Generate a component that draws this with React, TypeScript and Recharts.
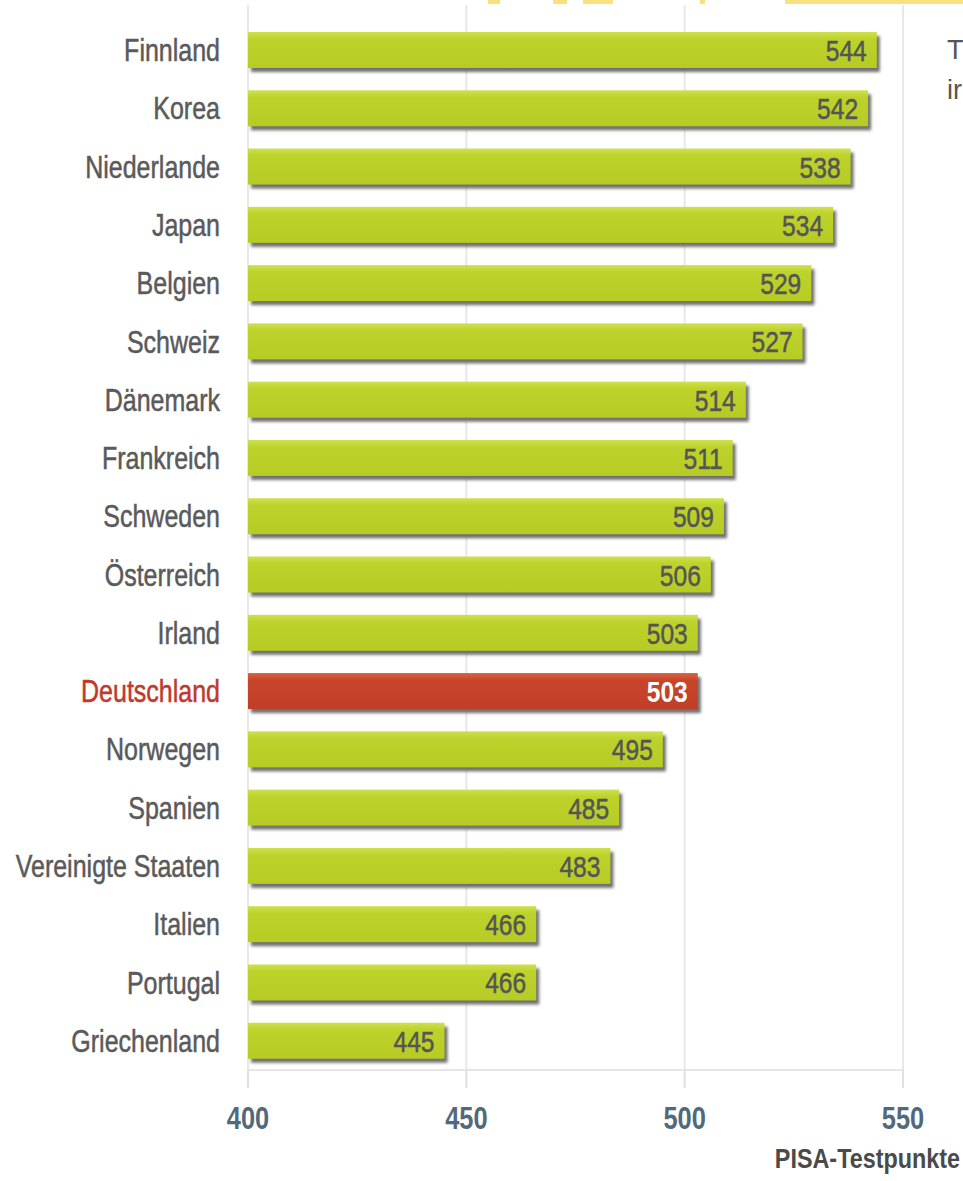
import { BarChart, Bar, XAxis, YAxis, CartesianGrid, Cell, LabelList } from 'recharts';

const countries = [
  'Finnland', 'Korea', 'Niederlande', 'Japan', 'Belgien', 'Schweiz', 'Dänemark', 'Frankreich',
  'Schweden', 'Österreich', 'Irland', 'Deutschland', 'Norwegen', 'Spanien', 'Vereinigte Staaten',
  'Italien', 'Portugal', 'Griechenland',
];
const scores = [544, 542, 538, 534, 529, 527, 514, 511, 509, 506, 503, 503, 495, 485, 483, 466, 466, 445];
const xTicks = [400, 450, 500, 550];
const highlight = 'Deutschland';
const axisTitle = 'PISA-Testpunkte';

const data = countries.map((name, i) => ({ name, score: scores[i] }));

const FONT = "'Liberation Sans', Arial, sans-serif";
const NARROW = 0.82;
const GREEN = '#bdd22a';
const RED = '#c8452b';

// condensed text: the reference uses a narrow grotesque, so squeeze Liberation Sans
function Narrow({ x, y, anchor, size, weight, fill, children, stroke }: any) {
  return (
    <text
      transform={`translate(${x} ${y}) scale(${NARROW} 1)`}
      x={0}
      y={0}
      textAnchor={anchor}
      fontFamily={FONT}
      fontSize={size}
      fontWeight={weight}
      fill={fill}
      stroke={stroke ? fill : undefined}
      strokeWidth={stroke ? 0.5 : undefined}
    >
      {children}
    </text>
  );
}

function ShadowBar(props: any) {
  const { x, y, width, height, payload } = props;
  const hot = payload.name === highlight;
  return (
    <g>
      <rect x={x + 3} y={y + 4} width={width} height={height} fill="#6f6f6f" filter="url(#barShadow)" />
      <rect x={x} y={y} width={width} height={height} fill={hot ? 'url(#redFill)' : 'url(#greenFill)'} />
    </g>
  );
}

function ValueLabel(props: any) {
  const { x, y, width, height, value, index } = props;
  const hot = countries[index] === highlight;
  return (
    <Narrow
      x={x + width - 10}
      y={y + height / 2 + 11}
      anchor="end"
      size={30}
      weight={hot ? 700 : 400}
      fill={hot ? '#ffffff' : '#555555'}
      stroke={!hot}
    >
      {value}
    </Narrow>
  );
}

function CountryTick(props: any) {
  const { x, y, payload } = props;
  const hot = payload.value === highlight;
  return (
    <Narrow x={x} y={y + 11} anchor="end" size={30.5} weight={400} fill={hot ? '#c0392b' : '#5a5a5a'} stroke>
      {payload.value}
    </Narrow>
  );
}

function ScoreTick(props: any) {
  const { x, y, payload } = props;
  return (
    <Narrow x={x} y={y + 37} anchor="middle" size={31} weight={700} fill="#52697a">
      {payload.value}
    </Narrow>
  );
}

function AxisTitle(props: any) {
  const { viewBox } = props;
  return (
    <Narrow x={viewBox.x + viewBox.width + 57} y={viewBox.y + 98} anchor="end" size={28.5} weight={700} fill="#4a4a4a">
      {axisTitle}
    </Narrow>
  );
}

function GridLine(props: any) {
  const { x1, x2, y1, y2 } = props;
  return <line x1={x1} x2={x2} y1={y1 - 16} y2={y2} stroke="#e8e8e8" strokeWidth={2} />;
}

const yellowBits = [
  { left: 488, width: 12 }, { left: 553, width: 14 }, { left: 583, width: 30 },
  { left: 700, width: 5 }, { left: 785, width: 178 },
];

export default function App() {
  return (
    <div
      style={{
        position: 'absolute', left: 0, top: 0, width: 963, height: 1181,
        overflow: 'hidden', background: '#ffffff',
      }}
    >
      {yellowBits.map((b, i) => (
        <div
          key={i}
          style={{
            position: 'absolute', top: 0, left: b.left, width: b.width, height: 4,
            background: '#fad95c', opacity: 0.8,
          }}
        />
      ))}
      <div style={{ position: 'absolute', left: 947, top: 30, fontFamily: "'Liberation Sans', sans-serif", fontSize: 27, color: '#555', lineHeight: '40px' }}>
        T<br />ir
      </div>
      <BarChart
        width={963}
        height={1181}
        data={data}
        layout="vertical"
        margin={{ top: 21, right: 60, bottom: 51, left: 8 }}
      >
        <defs>
          <linearGradient id="greenFill" x1="0" y1="0" x2="0" y2="1">
            <stop offset="0%" stopColor="#cfe04f" />
            <stop offset="20%" stopColor={GREEN} />
            <stop offset="100%" stopColor="#b6cc24" />
          </linearGradient>
          <linearGradient id="redFill" x1="0" y1="0" x2="0" y2="1">
            <stop offset="0%" stopColor="#d9623f" />
            <stop offset="20%" stopColor={RED} />
            <stop offset="100%" stopColor="#bf3f27" />
          </linearGradient>
          <filter id="barShadow" x="-5%" y="-30%" width="110%" height="160%">
            <feGaussianBlur stdDeviation="1.6" />
          </filter>
        </defs>
        <CartesianGrid horizontal={false} vertical={GridLine} />
        <XAxis
          type="number"
          domain={[400, 550]}
          ticks={xTicks}
          allowDataOverflow
          height={60}
          axisLine={{ stroke: '#e6e6e6', strokeWidth: 2 }}
          tickLine={{ stroke: '#e0e0e0', strokeWidth: 2 }}
          tickSize={18}
          tickMargin={4}
          tick={<ScoreTick />}
          label={<AxisTitle />}
        />
        <YAxis
          type="category"
          dataKey="name"
          width={240}
          axisLine={false}
          tickLine={false}
          tickSize={0}
          tickMargin={28}
          interval={0}
          tick={<CountryTick />}
        />
        <Bar dataKey="score" barSize={36} shape={<ShadowBar />} isAnimationActive={false}>
          {data.map((d) => (
            <Cell key={d.name} fill={d.name === highlight ? RED : GREEN} />
          ))}
          <LabelList dataKey="score" content={<ValueLabel />} />
        </Bar>
      </BarChart>
    </div>
  );
}
